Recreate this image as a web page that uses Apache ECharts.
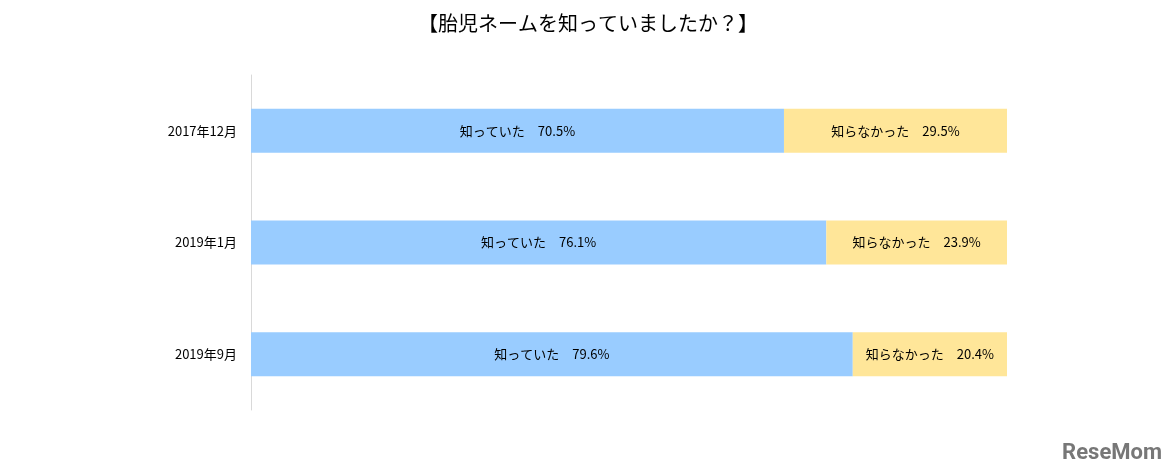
<!DOCTYPE html>
<html>
<head>
<meta charset="utf-8">
<script src="https://cdn.jsdelivr.net/npm/echarts@6/dist/echarts.min.js"></script>
<style>html,body{margin:0;padding:0;background:#fff}#main{width:1176px;height:474px}</style>
</head>
<body>
<div id="main"></div>
<script>
var categories = ['2017年12月', '2019年1月', '2019年9月'];
var knew = [70.5, 76.1, 79.6];
var didNotKnow = [29.5, 23.9, 20.4];

var myChart = echarts.init(document.getElementById('main'));
var font = '"Noto Sans CJK JP", "DejaVu Sans Mono", sans-serif';

var option = {
    color: ['#99CCFF', '#FFE699'],
    title: {
        text: '【胎児ネームを知っていましたか？】',
        left: 'center',
        top: 8,
        textStyle: { fontFamily: font, fontSize: 20, fontWeight: 'normal', color: '#000' }
    },
    grid: { left: 251, right: 169, top: 75, bottom: 64 },
    xAxis: { type: 'value', min: 0, max: 100, show: false },
    yAxis: {
        type: 'category',
        data: categories,
        inverse: true,
        axisLine: { lineStyle: { color: '#d9d9d9' } },
        axisTick: { show: false },
        axisLabel: { fontFamily: font, fontSize: 13, color: '#000', margin: 14 }
    },
    series: [
        {
            name: '知っていた',
            type: 'bar',
            stack: 'a',
            barWidth: 44,
            data: knew,
            label: {
                show: true, position: 'inside', color: '#000', fontFamily: font, fontSize: 13,
                formatter: function (p) { return '知っていた　' + p.value.toFixed(1) + '%'; }
            }
        },
        {
            name: '知らなかった',
            type: 'bar',
            stack: 'a',
            data: didNotKnow,
            label: {
                show: true, position: 'inside', color: '#000', fontFamily: font, fontSize: 13,
                formatter: function (p) { return '知らなかった　' + p.value.toFixed(1) + '%'; }
            }
        }
    ],
    graphic: [{
        type: 'text', right: 14, bottom: 10,
        style: { text: 'ReseMom', fontSize: 22, fontWeight: 'bold', fill: '#777', fontFamily: 'Roboto, sans-serif' }
    }]
};

myChart.setOption(option);
</script>
</body>
</html>
